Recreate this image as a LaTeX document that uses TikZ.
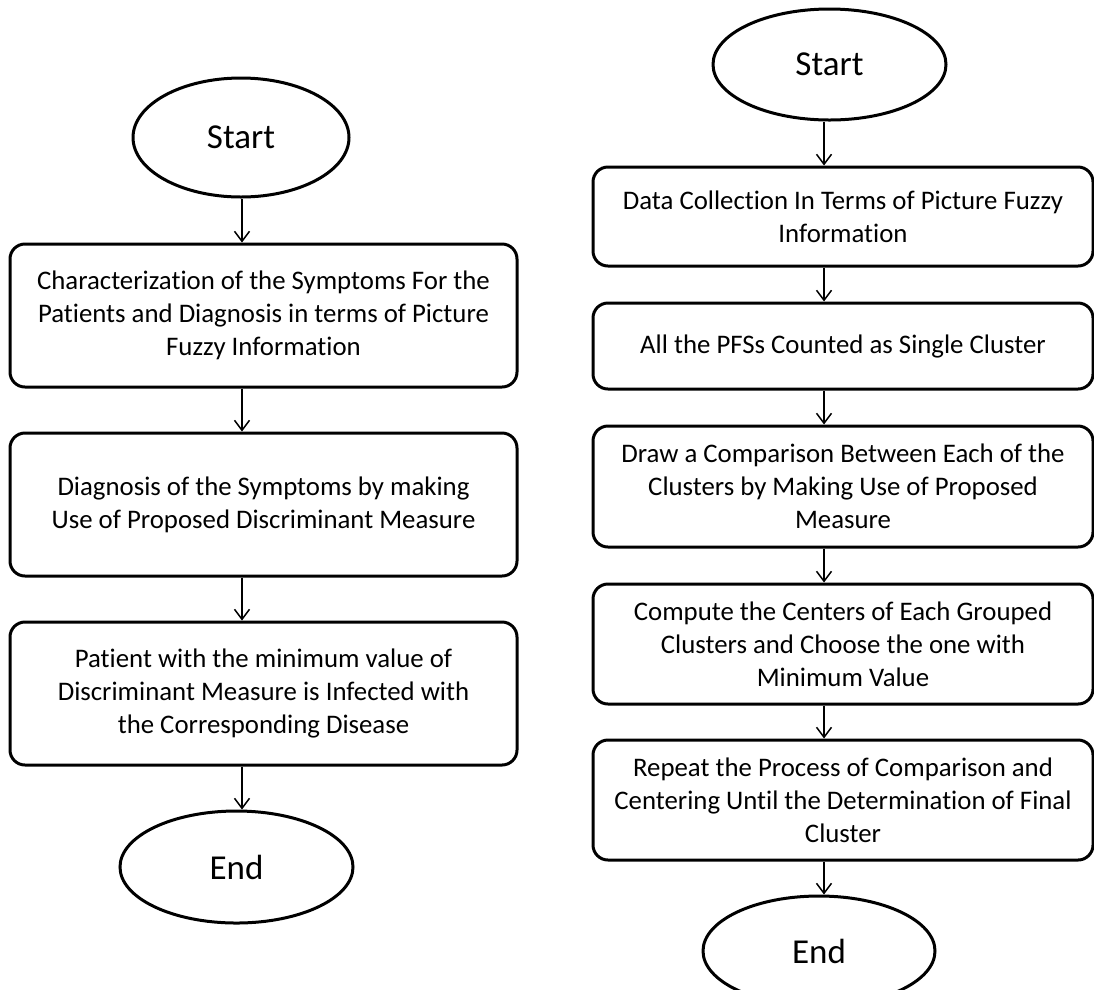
\documentclass[tikz,border=0pt]{standalone}
\usepackage{fontspec}
\setmainfont{Carlito}[RawFeature={-liga;-clig;-dlig;-calt}]
\usetikzlibrary{arrows.meta, positioning, shapes.geometric}

\begin{document}
\begin{tikzpicture}[
    x = 1pt, y = 1pt,
    terminal/.style = {
        ellipse, draw=black, line width=3pt,
        inner sep = 0pt,
        font = \fontsize{35}{40}\selectfont
    },
    stepbox/.style = {
        rectangle, rounded corners=15pt, draw=black, line width=3pt,
        align = center, inner sep = 4pt,
        font = \fontsize{26.8}{33}\selectfont
    },
    leftbox/.style  = { stepbox, minimum width = 507pt, minimum height = 143pt },
    rightbox/.style = { stepbox, minimum width = 500pt },
    flow/.style = { -{Straight Barb[length=10pt, width=15pt]}, line width=1.5pt },
]

\useasboundingbox (0,0) rectangle (1094,-989);

%% ── Left chart ───────────────────────────────────────────────────────────
\coordinate (laxis) at (242,0);

\node[terminal, minimum width=216pt, minimum height=119pt] (lstart) at (241,-137.5) {Start};

\node[leftbox, below=44pt of lstart, xshift=22.5pt] (lchar) {%
    Characterization of the Symptoms For the\\
    Patients and Diagnosis in terms of Picture\\
    Fuzzy Information};

\node[leftbox, below=43pt of lchar] (ldiag) {%
    Diagnosis of the Symptoms by making\\
    Use of Proposed Discriminant Measure};

\node[leftbox, below=43pt of ldiag] (lpat) {%
    Patient with the minimum value of\\
    Discriminant Measure is Infected with\\
    the Corresponding Disease};

\node[terminal, minimum width=233pt, minimum height=112pt,
      below=43pt of lpat, xshift=-27pt] (lend) {End};

\draw[flow] (lstart.south -| laxis) -- (lchar.north -| laxis);
\draw[flow] (lchar.south -| laxis)  -- (ldiag.north -| laxis);
\draw[flow] (ldiag.south -| laxis)  -- (lpat.north -| laxis);
\draw[flow] (lpat.south -| laxis)   -- (lend.north -| laxis);

%% ── Right chart ──────────────────────────────────────────────────────────
\coordinate (raxis) at (824,0);

\node[terminal, minimum width=233pt, minimum height=111pt] (rstart) at (829.5,-64.5) {Start};

\node[rightbox, minimum height=99pt, below=44pt of rstart, xshift=13.5pt] (rdata) {%
    Data Collection In Terms of Picture Fuzzy\\
    Information};

\node[rightbox, minimum height=86pt, below=34pt of rdata] (rsingle) {%
    All the PFSs Counted as Single Cluster};

\node[rightbox, minimum height=121pt, below=34pt of rsingle] (rcomp) {%
    Draw a Comparison Between Each of the\\
    Clusters by Making Use of Proposed\\
    Measure};

\node[rightbox, minimum height=120pt, below=34pt of rcomp] (rcent) {%
    Compute the Centers of Each Grouped\\
    Clusters and Choose the one with\\
    Minimum Value};

\node[rightbox, minimum height=120pt, below=33pt of rcent] (rrep) {%
    Repeat the Process of Comparison and\\
    Centering Until the Determination of Final\\
    Cluster};

\node[terminal, minimum width=232pt, minimum height=110pt,
      below=33pt of rrep, xshift=-24pt] (rend) {End};

\draw[flow] (rstart.south -| raxis) -- (rdata.north -| raxis);
\draw[flow] (rdata.south -| raxis)  -- (rsingle.north -| raxis);
\draw[flow] (rsingle.south -| raxis) -- (rcomp.north -| raxis);
\draw[flow] (rcomp.south -| raxis)  -- (rcent.north -| raxis);
\draw[flow] (rcent.south -| raxis)  -- (rrep.north -| raxis);
\draw[flow] (rrep.south -| raxis)   -- (rend.north -| raxis);

\end{tikzpicture}
\end{document}
